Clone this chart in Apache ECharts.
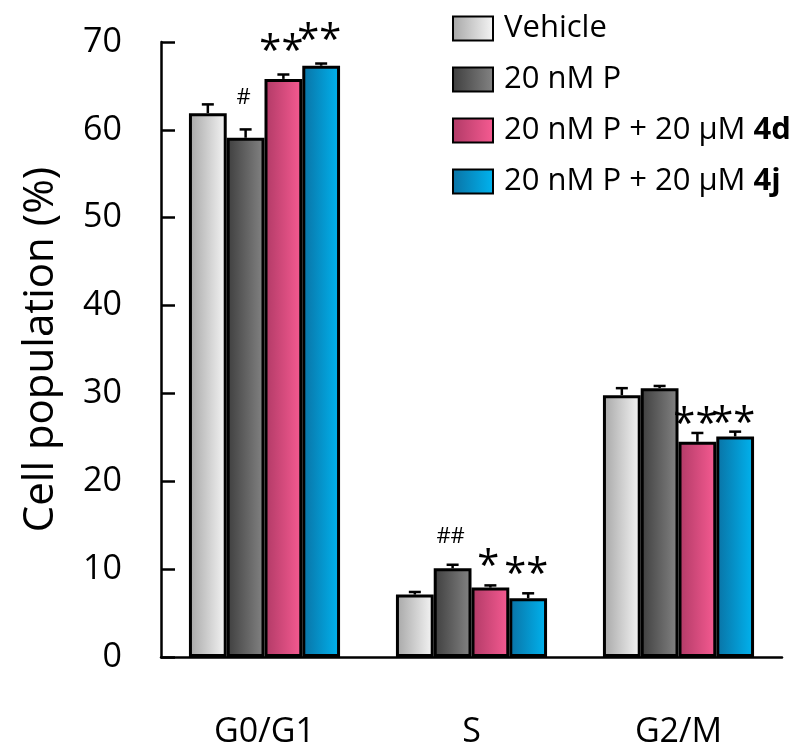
<!DOCTYPE html>
<html><head>
<meta charset="UTF-8">
<title>Cell population</title>
<script src="https://cdn.jsdelivr.net/npm/echarts@6/dist/echarts.min.js"></script>
<style>
html,body{margin:0;padding:0;background:#fff;}
#chart{width:802px;height:748px;}
</style>
</head>
<body>
<div id="chart"></div>
<script>
// data
var phases = ['G0/G1', 'S', 'G2/M'];
var groupNames = ['Vehicle', '20 nM P', '20 nM P + 20 μM 4d', '20 nM P + 20 μM 4j'];
var vehicle    = [61.9, 7.1, 29.8];
var pOnly      = [59.1, 10.1, 30.6];
var p4d        = [65.8, 7.9, 24.5];
var p4j        = [67.3, 6.7, 25.1];
var vehicleErr = [1.0, 0.3, 0.8];
var pOnlyErr   = [0.95, 0.4, 0.25];
var p4dErr     = [0.5, 0.25, 1.0];
var p4jErr     = [0.25, 0.55, 0.55];
var vehicleSig = ['', '', ''];
var pOnlySig   = ['#', '##', ''];
var p4dSig     = ['**', '*', '**'];
var p4jSig     = ['**', '**', '**'];
var yTicks = [0, 10, 20, 30, 40, 50, 60, 70];

var values = [vehicle, pOnly, p4d, p4j];
var errs = [vehicleErr, pOnlyErr, p4dErr, p4jErr];
var sigs = [vehicleSig, pOnlySig, p4dSig, p4jSig];

function grad(a, b) {
    return new echarts.graphic.LinearGradient(0, 0, 1, 0, [
        {offset: 0, color: a}, {offset: 1, color: b}
    ]);
}
var fills = [
    grad('#a6a6a6', '#f6f6f6'),
    grad('#3e3e3e', '#848484'),
    grad('#b03a66', '#f75b92'),
    grad('#0a72a4', '#00b4f0')
];

var gapRatio = 0.27;
var markLift = [29, 25, 14];   // px above error cap, per phase
var font = '"Open Sans", "Noto Sans", sans-serif';

var series = [];
for (var k = 0; k < 4; k++) {
    series.push({
        name: groupNames[k],
        type: 'bar',
        data: values[k],
        barGap: '0%',
        barCategoryGap: (gapRatio * 100) + '%',
        itemStyle: {color: fills[k], borderColor: '#000', borderWidth: 3},
        emphasis: {disabled: true},
        z: 2
    });
}

var errData = [], sigData = [];
for (var k = 0; k < 4; k++) {
    for (var i = 0; i < phases.length; i++) {
        errData.push([i, values[k][i] + errs[k][i], k, values[k][i]]);
        if (sigs[k][i]) sigData.push([i, values[k][i] + errs[k][i], k, sigs[k][i]]);
    }
}

function barCenter(api, cat, val, k) {
    var p = api.coord([cat, val]);
    var band = api.size([1, 0])[0];
    var bw = band * (1 - gapRatio) / 4;
    return [p[0] + (k - 1.5) * bw, p[1]];
}

series.push({
    type: 'custom',
    data: errData,
    encode: {x: 0, y: 1},
    z: 3,
    silent: true,
    renderItem: function (params, api) {
        var cat = api.value(0), k = api.value(2);
        var top = barCenter(api, cat, api.value(1), k);
        var base = barCenter(api, cat, api.value(3), k);
        var st = {stroke: '#000', lineWidth: 2.5};
        return {type: 'group', children: [
            {type: 'line', shape: {x1: top[0], y1: top[1], x2: base[0], y2: base[1]}, style: st},
            {type: 'line', shape: {x1: top[0] - 6, y1: top[1], x2: top[0] + 6, y2: top[1]}, style: st}
        ]};
    }
});

series.push({
    type: 'custom',
    data: sigData,
    encode: {x: 0, y: 1},
    z: 4,
    silent: true,
    renderItem: function (params, api) {
        var cat = api.value(0), k = api.value(2);
        var txt = sigData[params.dataIndex][3];
        var p = barCenter(api, cat, api.value(1), k);
        var hash = txt.charAt(0) === '#';
        return {
            type: 'text',
            x: p[0] - 2,
            y: p[1] - markLift[cat] + (hash ? -3 : 7),
            style: {
                text: txt, fill: '#000',
                font: (hash ? '22px ' : '40px ') + font,
                align: 'center', verticalAlign: 'middle'
            }
        };
    }
});

var chart = echarts.init(document.getElementById('chart'), null, {renderer: 'canvas'});
chart.setOption({
    animation: false,
    backgroundColor: '#fff',
    textStyle: {fontFamily: font},
    grid: {left: 161, right: 20, top: 42, bottom: 91, containLabel: false, outerBoundsMode: 'none'},
    legend: {
        orient: 'vertical',
        left: 447, top: 8,
        icon: 'rect',
        itemWidth: 40, itemHeight: 24, itemGap: 20,
        data: groupNames,
        selectedMode: false,
        formatter: function (n) {
            return n.replace(/ (4[dj])$/, ' {b|$1}');
        },
        textStyle: {
            fontSize: 31, color: '#000', fontFamily: font, padding: [0, 0, 0, 6],
            rich: {b: {fontSize: 31, fontWeight: 'bold', color: '#000', fontFamily: font}}
        }
    },
    xAxis: {
        type: 'category',
        data: phases,
        axisLine: {lineStyle: {color: '#000', width: 2.5}},
        axisTick: {show: false},
        axisLabel: {color: '#000', fontSize: 34, margin: 58, fontFamily: font}
    },
    yAxis: {
        type: 'value',
        min: yTicks[0], max: yTicks[yTicks.length - 1], interval: 10,
        name: 'Cell population (%)',
        nameLocation: 'middle',
        nameGap: 99,
        nameRotate: 90,
        nameTextStyle: {color: '#000', fontSize: 42, fontFamily: font},
        axisLine: {show: true, lineStyle: {color: '#000', width: 2.5}},
        axisTick: {show: true, inside: true, length: 14, lineStyle: {color: '#000', width: 2.5}},
        axisLabel: {color: '#000', fontSize: 34, margin: 39, fontFamily: font},
        splitLine: {show: false}
    },
    series: series
});
</script>
</body></html>
